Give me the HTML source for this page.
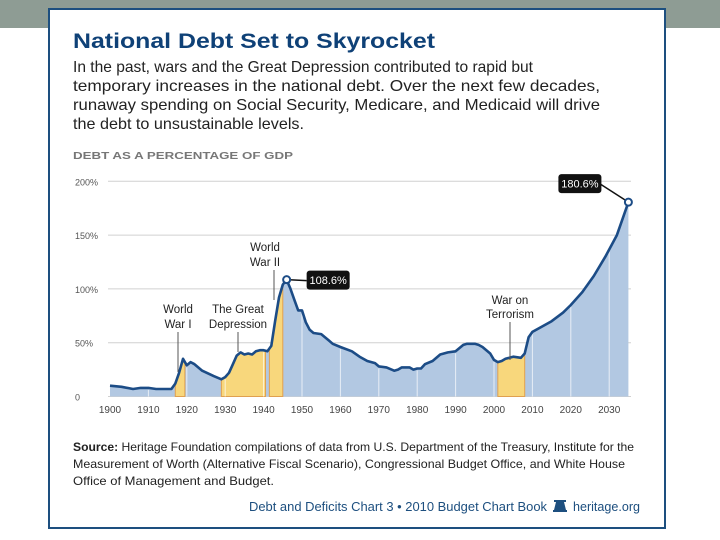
<!DOCTYPE html>
<html><head><meta charset="utf-8"><style>
html,body{margin:0;padding:0;background:#fff;}
svg{display:block;font-family:"Liberation Sans",sans-serif;}
</style></head><body>
<svg id="chart" width="720" height="540" viewBox="0 0 720 540">
<rect x="0" y="0" width="720" height="28" fill="#8e9c94"/>
<rect x="49" y="9" width="616" height="519" fill="#fff" stroke="#1d4f7f" stroke-width="2"/>
<text x="73" y="48" font-size="21" font-weight="bold" fill="#0f4177" textLength="362" lengthAdjust="spacingAndGlyphs">National Debt Set to Skyrocket</text>
<g font-size="16" fill="#222">
<text x="73" y="72" textLength="460" lengthAdjust="spacingAndGlyphs">In the past, wars and the Great Depression contributed to rapid but</text>
<text x="73" y="91" textLength="527" lengthAdjust="spacingAndGlyphs">temporary increases in the national debt. Over the next few decades,</text>
<text x="73" y="110" textLength="527" lengthAdjust="spacingAndGlyphs">runaway spending on Social Security, Medicare, and Medicaid will drive</text>
<text x="73" y="129" textLength="231" lengthAdjust="spacingAndGlyphs">the debt to unsustainable levels.</text>
</g>
<text x="73" y="159" font-size="10.5" font-weight="bold" fill="#777" textLength="220" lengthAdjust="spacingAndGlyphs">DEBT AS A PERCENTAGE OF GDP</text>
<g id="grid"></g>
<g id="plot"></g>
<g id="annot" font-size="11.5" fill="#222" text-anchor="middle">
<text x="178" y="313">World</text><text x="178" y="328">War I</text>
<line x1="178" y1="332" x2="178" y2="372" stroke="#555" stroke-width="1"/>
<text x="238" y="313">The Great</text><text x="238" y="328">Depression</text>
<line x1="238" y1="332" x2="238" y2="352" stroke="#555" stroke-width="1"/>
<text x="265" y="251">World</text><text x="265" y="266">War II</text>
<line x1="274" y1="270" x2="274" y2="300" stroke="#555" stroke-width="1"/>
<text x="510" y="304">War on</text><text x="510" y="318">Terrorism</text>
<line x1="510" y1="322" x2="510" y2="360" stroke="#555" stroke-width="1"/>
</g>
<g font-size="12" fill="#222">
<text x="73" y="451" textLength="561" lengthAdjust="spacingAndGlyphs"><tspan font-weight="bold">Source:</tspan> Heritage Foundation compilations of data from U.S. Department of the Treasury, Institute for the</text>
<text x="73" y="468" textLength="552" lengthAdjust="spacingAndGlyphs">Measurement of Worth (Alternative Fiscal Scenario), Congressional Budget Office, and White House</text>
<text x="73" y="485" textLength="201" lengthAdjust="spacingAndGlyphs">Office of Management and Budget.</text>
</g>
<text x="249" y="511" font-size="12.5" fill="#1d4f7f" textLength="298" lengthAdjust="spacingAndGlyphs">Debt and Deficits Chart 3 • 2010 Budget Chart Book</text>
<g fill="#1d4f7f">
<rect x="554" y="500" width="12" height="2"/><path d="M556 502 h8 l2 8 h-12 z"/><rect x="553" y="510" width="14" height="2"/>
</g>
<text x="573" y="511" font-size="12.5" fill="#1d4f7f" textLength="67" lengthAdjust="spacingAndGlyphs">heritage.org</text>
</svg>
<script>
const years = [1900,1903,1906,1908,1910,1912,1916,1917,1918,1919,1920,1921,1922,1924,1927,1929,1930,1931,1932,1933,1934,1935,1936,1937,1938,1939,1940,1941,1942,1943,1944,1945,1946,1947,1948,1949,1950,1951,1952,1953,1955,1957,1958,1960,1963,1965,1967,1969,1970,1972,1974,1975,1976,1978,1979,1980,1981,1982,1984,1986,1988,1990,1992,1993,1995,1996,1997,1999,2000,2001,2002,2003,2004,2005,2007,2008,2009,2010,2012,2015,2018,2020,2023,2026,2029,2032,2035];
const debtPct = [10,9,7,8,8,7,7,12,22,35,29,32,30,24,19,16,18,22,30,38,41,39,40,39,42,43,43,42,47,70,92,104,108.6,100,90,80,80,69,62,59,58,52,49,46,42,37,33,31,28,27,24,25,27,27,25,26,26,30,33,39,41,42,48,49,49,48,46,40,34,32,33,35,36,37,36,40,55,60,64,70,78,85,97,112,130,150,180.6];
const yTicks = [0,50,100,150,200];
const yTickLabels = ["0","50%","100%","150%","200%"];
const xTicks = [1900,1910,1920,1930,1940,1950,1960,1970,1980,1990,2000,2010,2020,2030];
const shadeStart = [1917,1929,1941.5,2001];
const shadeEnd = [1919.5,1940.5,1945,2008];
const callouts = [{year:1946,value:108.6,label:"108.6%"},{year:2035,value:180.6,label:"180.6%"}];

const NS = "http://www.w3.org/2000/svg";
const X = y => 110 + (y - 1900) * 3.84;
const Y = v => 396.5 - v * 1.076;
function mk(tag, attrs, parent){const e=document.createElementNS(NS,tag);for(const k in attrs)e.setAttribute(k,attrs[k]);parent.appendChild(e);return e;}
const grid = document.getElementById('grid');
const plot = document.getElementById('plot');
function valAt(yr){for(let i=1;i<years.length;i++){if(yr<=years[i]){const t=(yr-years[i-1])/(years[i]-years[i-1]);return debtPct[i-1]+t*(debtPct[i]-debtPct[i-1]);}}return debtPct[debtPct.length-1];}

yTicks.forEach((v,i)=>{
  const l=mk('line',{x1:108,x2:631,y1:Y(v),y2:Y(v),stroke:'#d0d0d0','stroke-width':1},grid);
  
  
  const t=mk('text',{x:75,y:Y(v)+4,'font-size':9,fill:'#555'},grid);
  t.textContent=yTickLabels[i];
  
  
});
xTicks.forEach(yr=>{
  const t=mk('text',{x:X(yr),y:413,'font-size':10,fill:'#444','text-anchor':'middle'},grid);
  t.textContent=String(yr);
  
  
});
// area
let d=`M${X(years[0])},${Y(0)}`;
years.forEach((yr,i)=>{d+=` L${X(yr).toFixed(1)},${Y(debtPct[i]).toFixed(1)}`;});
d+=` L${X(years[years.length-1])},${Y(0)} Z`;
const area=mk('path',{d:d,fill:'#b2c8e2'},plot);


// shaded periods
shadeStart.forEach((s,i)=>{
  const e=shadeEnd[i];
  let pd=`M${X(s)},${Y(0)}`;
  const pts=[s];years.forEach(yr=>{if(yr>s&&yr<e)pts.push(yr);});pts.push(e);
  pts.forEach(p=>{pd+=` L${X(p).toFixed(1)},${Y(valAt(p)).toFixed(1)}`;});
  pd+=` L${X(e)},${Y(0)} Z`;
  const b=mk('path',{d:pd,fill:'#f8d77c',stroke:'#e0a050','stroke-width':1},plot);
  
  
});
// decade white lines
xTicks.forEach(yr=>{
  if(yr===1900)return;
  const l=mk('line',{x1:X(yr),x2:X(yr),y1:Y(0),y2:Y(valAt(yr))+2,stroke:'#fff','stroke-width':1,opacity:0.7},plot);
  
  
});
let ld='';years.forEach((yr,i)=>{ld+=(i?' L':'M')+X(yr).toFixed(1)+','+Y(debtPct[i]).toFixed(1);});
const line=mk('path',{d:ld,fill:'none',stroke:'#1c4c86','stroke-width':2.6,'stroke-linejoin':'round'},plot);


callouts.forEach((c,i)=>{
  const cx=X(c.year),cy=Y(c.value);
  const bx = i===0 ? cx+20 : cx-70, by = i===0 ? cy-9 : cy-28;
  mk('line',{x1:cx,y1:cy,x2:i===0?bx:bx+42,y2:i===0?by+10:by+10,stroke:'#111','stroke-width':1.5},plot);
  const r=mk('rect',{x:bx,y:by,width:43,height:19,rx:3,fill:'#111'},plot);
  
  
  const t=mk('text',{x:bx+21.5,y:by+13.5,'font-size':11,fill:'#fff','text-anchor':'middle'},plot);
  t.textContent=c.label;
  
  
  const m=mk('circle',{cx:cx,cy:cy,r:3.5,fill:'#fff',stroke:'#1c4c86','stroke-width':2},plot);
  
  
});
</script>
</body></html>
